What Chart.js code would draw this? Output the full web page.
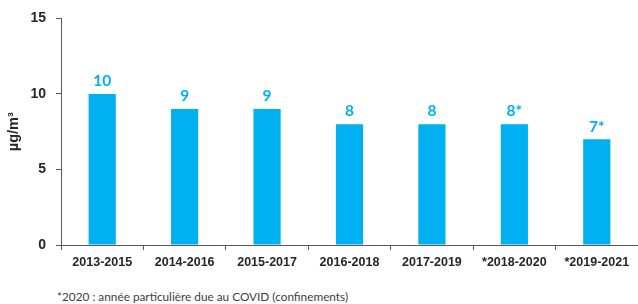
<!DOCTYPE html>
<html lang="fr">
<head>
  <meta charset="UTF-8">
  <title>PM - moyennes triennales</title>
  <script src="https://cdn.jsdelivr.net/npm/chart.js"></script>
  <style>
    body {
      margin: 0;
      background: white;
    }
    #wrap {
      position: relative;
      width: 638px;
      height: 304px;
    }
    #note {
      position: absolute;
      left: 57px;
      top: 289px;
      font-family: Lato, 'Noto Sans', sans-serif;
      font-size: 11.8px;
      color: #404040;
      white-space: nowrap;
    }
  </style>
</head>
<body>
  <div id="wrap">
    <canvas id="chart" width="638" height="284"></canvas>
    <div id="note">*2020 : année particulière due au COVID (confinements)</div>
  </div>

  <script>
    const periods = ['2013-2015', '2014-2016', '2015-2017', '2016-2018', '2017-2019', '*2018-2020', '*2019-2021'];
    const values = [10, 9, 9, 8, 8, 8, 7];
    const valueLabels = ['10', '9', '9', '8', '8', '8*', '7*'];
    const yTicks = [0, 5, 10, 15];

    const barBlue = '#00B0F0';
    const axisGrey = '#595959';

    // writes the value above each bar
    const barLabels = {
      id: 'barLabels',
      afterDatasetsDraw(chart) {
        const ctx = chart.ctx;
        const meta = chart.getDatasetMeta(0);
        ctx.save();
        ctx.fillStyle = barBlue;
        ctx.font = 'bold 15.5px Lato, sans-serif';
        ctx.textAlign = 'center';
        ctx.textBaseline = 'bottom';
        meta.data.forEach((bar, i) => {
          ctx.fillText(valueLabels[i], bar.x, bar.y - 5);
        });
        ctx.restore();
      }
    };

    const ctx = document.getElementById('chart').getContext('2d');
    new Chart(ctx, {
      type: 'bar',
      data: {
        labels: periods,
        datasets: [{
          data: values,
          backgroundColor: barBlue,
          categoryPercentage: 1,
          barPercentage: 0.33
        }]
      },
      options: {
        responsive: false,
        animation: false,
        layout: { padding: { top: 17, left: 5, right: 0, bottom: 9 } },
        plugins: {
          legend: { display: false },
          tooltip: { enabled: false }
        },
        scales: {
          x: {
            grid: {
              offset: true,
              drawOnChartArea: false,
              drawTicks: true,
              tickLength: 5,
              color: axisGrey
            },
            border: { color: axisGrey, width: 1 },
            ticks: {
              color: '#262626',
              padding: 5,
              maxRotation: 0,
              autoSkip: false,
              font: { family: 'Liberation Sans', size: 12.5, weight: 'bold' }
            }
          },
          y: {
            min: 0,
            max: 15,
            afterBuildTicks(scale) {
              scale.ticks = yTicks.map(v => ({ value: v }));
            },
            afterFit(scale) {
              scale.width = 56;
            },
            grid: {
              drawOnChartArea: false,
              drawTicks: true,
              tickLength: 5,
              color: axisGrey
            },
            border: { color: axisGrey, width: 1 },
            ticks: {
              color: '#262626',
              padding: 10,
              font: { family: 'Liberation Sans', size: 14, weight: 'bold' }
            },
            title: {
              display: true,
              text: 'µg/m³',
              color: '#262626',
              padding: { top: 0, bottom: 0 },
              font: { family: 'Liberation Sans', size: 14.5, weight: 'bold' }
            }
          }
        }
      },
      plugins: [barLabels]
    });
  </script>
</body>
</html>
